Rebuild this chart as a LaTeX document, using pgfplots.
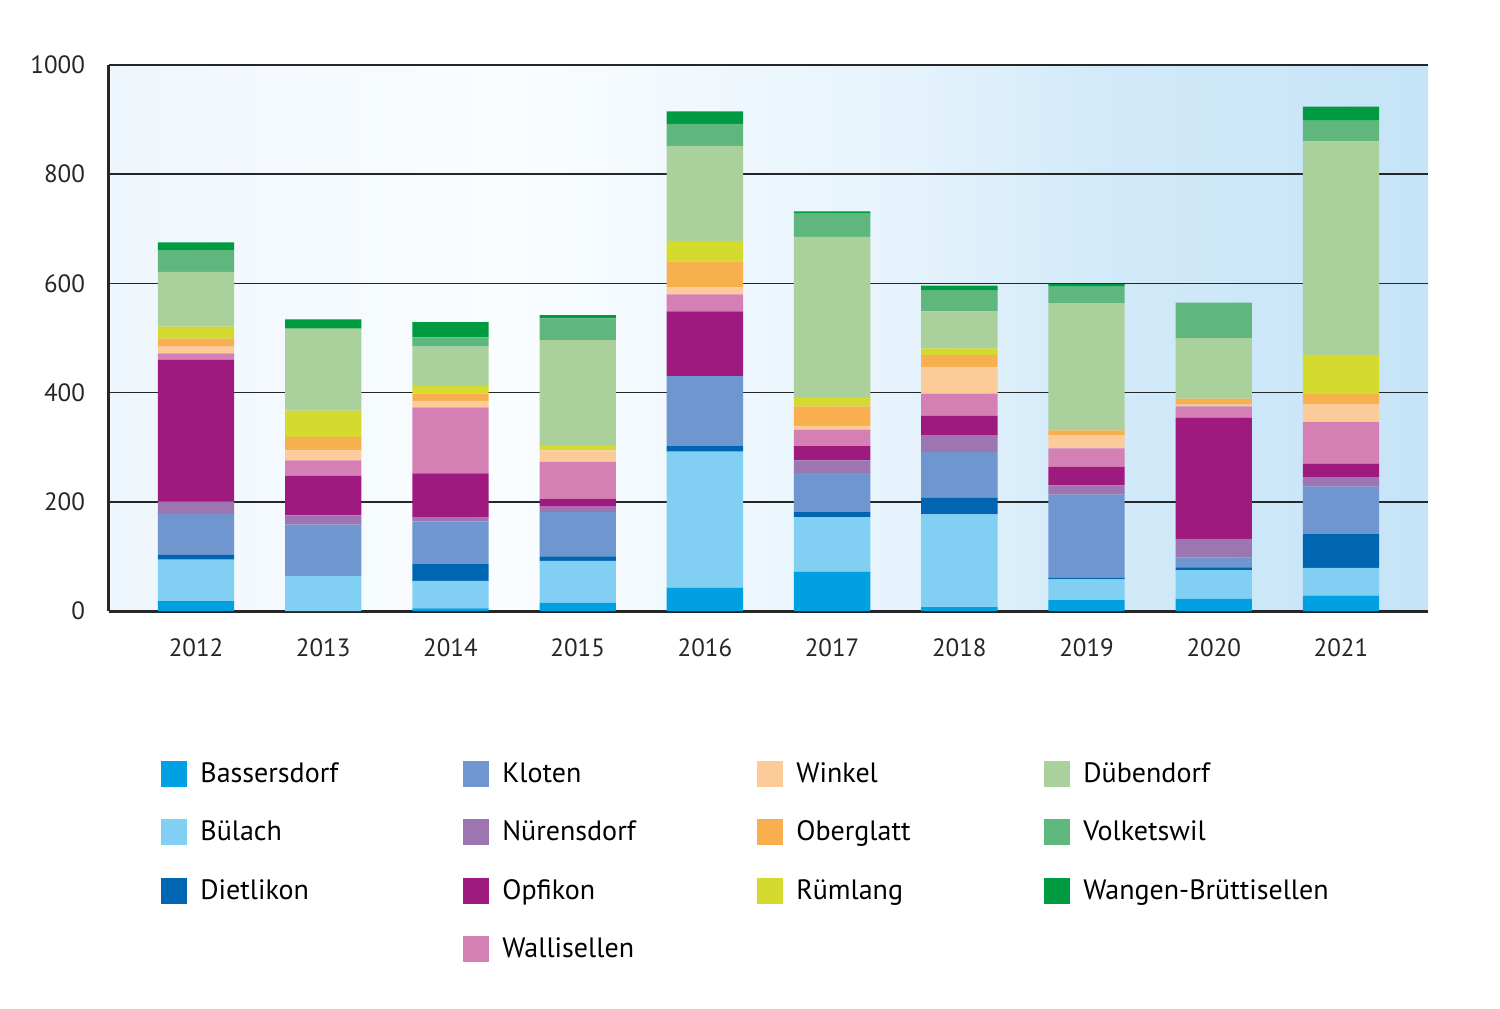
\documentclass[border=0pt]{standalone}
\usepackage{fontspec}
\setmainfont{PT Sans}
\usepackage{pgfplots}
\usepackage{pgfplotstable}
\pgfplotsset{compat=1.18}

\definecolor{cBass}{HTML}{00A0E2}
\definecolor{cBuel}{HTML}{82CFF4}
\definecolor{cDiet}{HTML}{0066B2}
\definecolor{cKlot}{HTML}{6F96CE}
\definecolor{cNuer}{HTML}{9C75B1}
\definecolor{cOpfi}{HTML}{9E1A7F}
\definecolor{cWall}{HTML}{D580B4}
\definecolor{cWink}{HTML}{FDCA9A}
\definecolor{cOber}{HTML}{F8AF4E}
\definecolor{cRuem}{HTML}{D5DA2F}
\definecolor{cDueb}{HTML}{AAD19C}
\definecolor{cVolk}{HTML}{60B77D}
\definecolor{cWang}{HTML}{009A40}

\definecolor{bgA}{HTML}{EEF6FD}
\definecolor{bgB}{HTML}{FAFDFF}
\definecolor{bgC}{HTML}{E6F3FC}
\definecolor{bgD}{HTML}{D2EAF9}
\definecolor{bgE}{HTML}{C5E4F7}
\pgfdeclarehorizontalshading{bgshade}{100bp}{color(0bp)=(bgA); color(25bp)=(bgA); color(40bp)=(bgB); color(55bp)=(bgC); color(62.5bp)=(bgD); color(75bp)=(bgE); color(100bp)=(bgE)}

\pgfplotstableread{
x Bass Buel Diet Klot Nuer Opfi Wall Wink Ober Ruem Dueb Volk Wang
0 18 76 9 75 23 259 12 12 15 22 100 39 15
1 0 64 0 94 17 73 28 18 25 48 150 0 17
2 5 50 32 77 7 81 121 12 13 14 72 17 28
3 15 77 8 81 10 14 68 21 0 8 194 40 6
4 43 249 11 127 0 119 31 13 47 38 174 40 23
5 72 100 9 72 23 26 30 7 36 15 295 43 4
6 7 170 30 84 31 36 40 49 22 12 68 38 9
7 20 38 3 152 17 34 34 24 9 0 233 30 5
8 22 53 5 18 34 222 21 3 11 0 111 65 0
9 28 51 62 87 17 25 76 33 19 71 391 38 26
}\data

\begin{document}
\begin{tikzpicture}
\path[use as bounding box] (-54.5pt,-198.5pt) rectangle (695.5pt,305.5pt);
\begin{axis}[
  at={(0,0)}, anchor=south west,
  scale only axis, width=659.5pt, height=273pt,
  ybar stacked, bar width=0.6,
  xmin=-0.684, xmax=9.684, ymin=0, ymax=1000,
  xtick={0,...,9},
  xticklabels={2012,2013,2014,2015,2016,2017,2018,2019,2020,2021},
  ytick={0,200,400,600,800,1000},
  /pgf/number format/assume math mode=true,
  /pgf/number format/1000 sep={},
  ticklabel style={font=\fontsize{12.5}{15}\selectfont, text=black!85},
  xticklabel style={yshift=-10.5pt},
  yticklabel style={xshift=-8.5pt},
  major tick length=0pt,
  axis x line*=bottom, axis y line*=left,
  axis line style={line width=1.5pt, black!85, -},
  ymajorgrids, grid style={line width=0.8pt, black!85},
  axis background/.style={shading=bgshade},
  every axis plot/.append style={draw=none},
  legend image code/.code={\fill[#1] (0pt,-6.5pt) rectangle (13pt,6.5pt);},
  legend columns=4, transpose legend,
  legend cell align=left,
  legend style={at={(0,0)}, anchor=north west, xshift=26pt, yshift=-73.5pt,
    draw=none, fill=none, font=\fontsize{14}{16}\selectfont,
    row sep=13.8pt, inner sep=0pt,
    /tikz/every odd column/.append style={column sep=4.5pt},
    /tikz/every even column/.append style={column sep=4pt}},
]
\addplot[fill=cBass] table[x=x,y=Bass]{\data}; \addlegendentry{\makebox[125.5pt][l]{Bassersdorf}}
\addplot[fill=cBuel] table[x=x,y=Buel]{\data}; \addlegendentry{Bülach}
\addplot[fill=cDiet] table[x=x,y=Diet]{\data}; \addlegendentry{Dietlikon}
\addlegendimage{empty legend}\addlegendentry{}
\addplot[fill=cKlot] table[x=x,y=Klot]{\data}; \addlegendentry{\makebox[121.5pt][l]{Kloten}}
\addplot[fill=cNuer] table[x=x,y=Nuer]{\data}; \addlegendentry{Nürensdorf}
\addplot[fill=cOpfi] table[x=x,y=Opfi]{\data}; \addlegendentry{Opfikon}
\addplot[fill=cWall] table[x=x,y=Wall]{\data}; \addlegendentry{Wallisellen}
\addplot[fill=cWink] table[x=x,y=Wink]{\data}; \addlegendentry{\makebox[118pt][l]{Winkel}}
\addplot[fill=cOber] table[x=x,y=Ober]{\data}; \addlegendentry{Oberglatt}
\addplot[fill=cRuem] table[x=x,y=Ruem]{\data}; \addlegendentry{Rümlang}
\addlegendimage{empty legend}\addlegendentry{}
\addplot[fill=cDueb] table[x=x,y=Dueb]{\data}; \addlegendentry{Dübendorf}
\addplot[fill=cVolk] table[x=x,y=Volk]{\data}; \addlegendentry{Volketswil}
\addplot[fill=cWang] table[x=x,y=Wang]{\data}; \addlegendentry{Wangen-Brüttisellen}
\addlegendimage{empty legend}\addlegendentry{}
\end{axis}
\end{tikzpicture}
\end{document}
